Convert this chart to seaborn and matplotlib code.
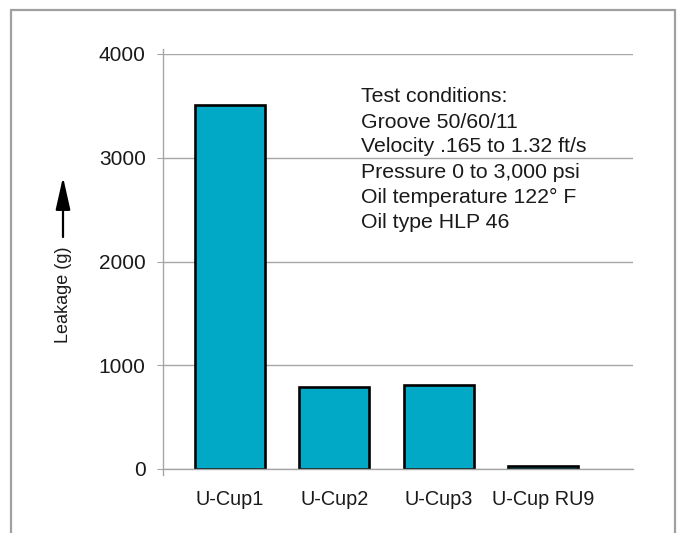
import matplotlib
matplotlib.use("Agg")
import matplotlib.pyplot as plt
import seaborn as sns
import pandas as pd
from matplotlib.lines import Line2D
from matplotlib.patches import FancyArrowPatch

# Leakage per seal type
seals = ["U-Cup1", "U-Cup2", "U-Cup3", "U-Cup RU9"]
leakage = [3505, 790, 805, 25]
y_ticks = [0, 1000, 2000, 3000, 4000]
conditions = [
    "Test conditions:",
    "Groove 50/60/11",
    "Velocity .165 to 1.32 ft/s",
    "Pressure 0 to 3,000 psi",
    "Oil temperature 122° F",
    "Oil type HLP 46",
]

sns.set_theme(style="white")
plt.rcParams["font.family"] = ["Liberation Sans", "DejaVu Sans"]

W, H = 683, 533
fig = plt.figure(figsize=(W / 100, H / 100), dpi=100)
ax = fig.add_axes([163 / W, 1 - 469 / H, (633 - 163) / W, (469 - 54) / H])

df = pd.DataFrame({"seal": seals, "leakage": leakage})
sns.barplot(data=df, x="seal", y="leakage", ax=ax, color="#02A9C7",
            saturation=1, width=0.67, edgecolor="black", linewidth=1.9)

ax.set_xlim(-0.642, 3.864)
ax.set_ylim(0, 4000)
ax.set_yticks(y_ticks)
ax.set_yticklabels([str(v) for v in y_ticks])
ax.yaxis.grid(True, color="#A6A6A6", linewidth=1.0)
ax.set_axisbelow(True)
ax.set_xlabel("")
ax.set_ylabel("")

for side in ("top", "right"):
    ax.spines[side].set_visible(False)
for side in ("left", "bottom"):
    ax.spines[side].set_color("#A6A6A6")
    ax.spines[side].set_linewidth(1.0)
ax.spines["left"].set_bounds(-60, 4050)

ax.tick_params(axis="y", which="major", left=True, length=4.5, width=0.8,
               color="#A6A6A6", pad=8, labelsize=15, labelcolor="#1a1a1a")
ax.tick_params(axis="x", bottom=False, pad=9, labelsize=14.3,
               labelcolor="#1a1a1a")

# Test conditions block
for i, line in enumerate(conditions):
    fig.text(361 / W, 1 - (97 + 25 * i) / H, line, fontsize=15.3,
             color="#1a1a1a", va="center", ha="left")

# Rotated axis caption with upward arrow
fig.text(63 / W, 1 - 295 / H, "Leakage (g)", rotation=90, fontsize=13,
         color="#1a1a1a", ha="center", va="center")
fig.add_artist(FancyArrowPatch(
    (63 / W, 1 - 237 / H), (63 / W, 1 - 177 / H),
    transform=fig.transFigure, arrowstyle="-|>,head_length=20,head_width=4.5",
    color="black", linewidth=1.6, mutation_scale=1, shrinkA=0, shrinkB=0))

# Outer frame (open at the bottom)
frame_kw = dict(color="#A0A0A0", linewidth=1.6, transform=fig.transFigure)
fig.add_artist(Line2D([11 / W, 11 / W], [0, 1 - 10 / H], **frame_kw))
fig.add_artist(Line2D([11 / W, 675 / W], [1 - 10 / H, 1 - 10 / H], **frame_kw))
fig.add_artist(Line2D([675 / W, 675 / W], [0, 1 - 10 / H], **frame_kw))

fig.savefig("out.png", dpi=100)
